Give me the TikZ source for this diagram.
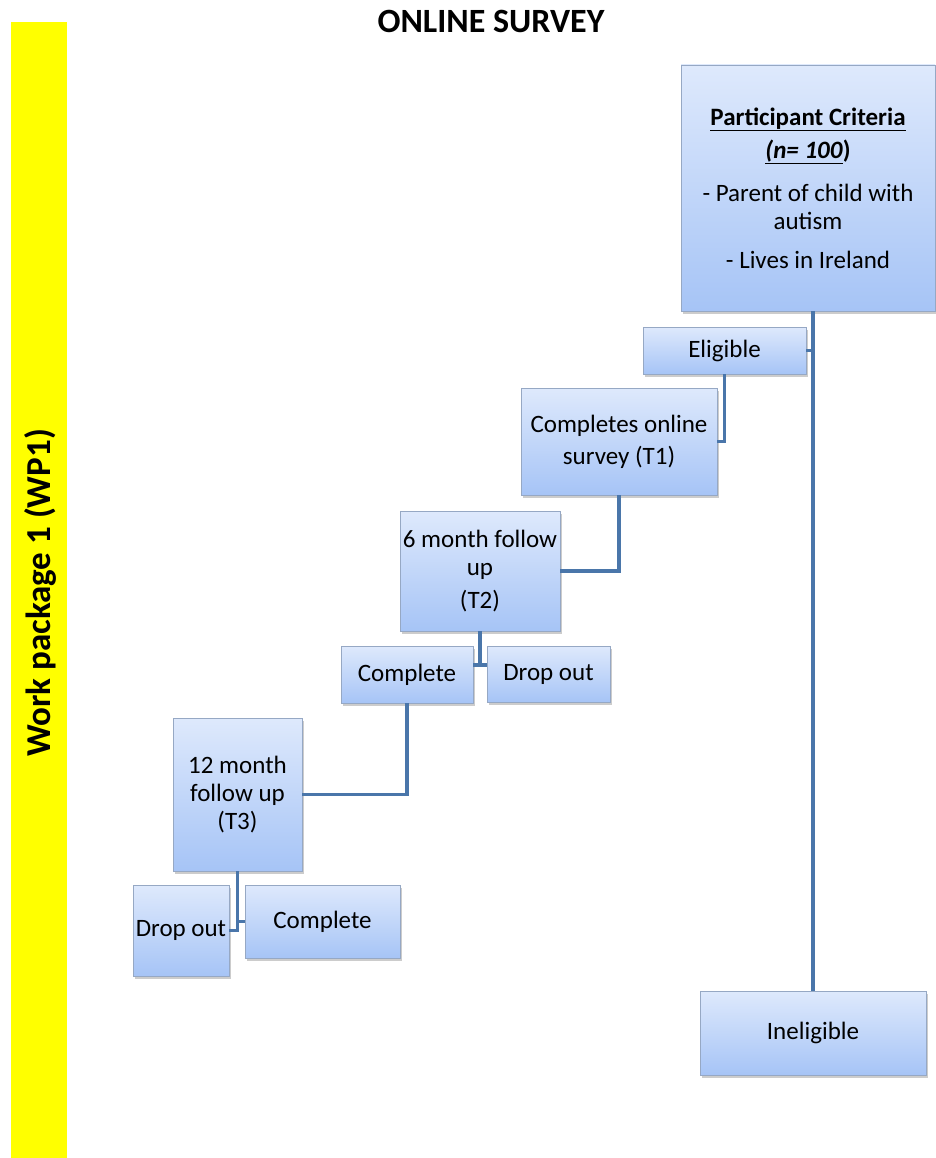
\documentclass[tikz,border=0pt]{standalone}
\usepackage{fontspec}
\setmainfont{Carlito}
\usetikzlibrary{shadows}
\definecolor{linkblue}{RGB}{74,118,170}
\definecolor{boxtop}{RGB}{222,233,252}
\definecolor{boxbot}{RGB}{166,196,246}
\definecolor{boxedge}{RGB}{150,168,196}
\definecolor{wpyellow}{RGB}{255,255,0}
\tikzset{
  box/.style={draw=boxedge, line width=0.8pt, top color=boxtop, bottom color=boxbot,
    align=center, inner sep=2pt, font=\fontsize{25}{28}\selectfont,
    drop shadow={opacity=0.4, shadow xshift=1.5pt, shadow yshift=-2.5pt}},
  link/.style={draw=linkblue, line width=3.5pt}
}
\begin{document}
\begin{tikzpicture}[x=1pt,y=1pt]
\useasboundingbox (0,0) rectangle (936,-1158);
\fill[wpyellow] (11,-22) rectangle (67,-1158);
\node[rotate=90, font=\fontsize{35}{40}\selectfont\bfseries] (wp) at (40,-593) {Work package 1 (WP1)};
\node[font=\fontsize{34}{38}\selectfont\bfseries] (title) at (491,-21) {ONLINE SURVEY};

\node[box, minimum width=254, minimum height=246] (pc) at (808,-188)
  {\underline{\textbf{Participant Criteria}}\\[5pt]
   \underline{\textbf{\textit{(n= 100}}}\textbf{)}\\[15pt]
   - Parent of child with\\ autism\\[11pt] - Lives in Ireland};
\node[box, minimum width=163, minimum height=47] (el) at (724.5,-350.5) {Eligible};
\node[box, minimum width=196, minimum height=107] (t1) at (619,-441.5) {Completes online\\[4pt] survey (T1)};
\node[box, minimum width=160, minimum height=120] (t2) at (480,-571) {6 month follow\\ up\\[5pt] (T2)};
\node[box, minimum width=132, minimum height=57] (c1) at (407,-674.5) {Complete};
\node[box, minimum width=123, minimum height=56] (d1) at (548.5,-674) {Drop out};
\node[box, minimum width=129, minimum height=153] (t3) at (237.5,-794.5) {12 month\\ follow up\\ (T3)};
\node[box, minimum width=96, minimum height=91] (d2) at (181,-930.5) {Drop out};
\node[box, minimum width=155, minimum height=73] (c2) at (322.5,-921.5) {Complete};
\node[box, minimum width=226, minimum height=84] (in) at (813,-1033) {Ineligible};

\draw[link] (pc.south -| in.north) -- (in.north);
\draw[link] (el.east) -- (el.east -| in.north);
\draw[link] (el.south) |- (t1.east);
\draw[link] (t1.south) |- (t2.east);
\coordinate (j1) at (481,-665);
\draw[link] (t2.south) -- (t2.south |- j1);
\draw[link] (c1.east |- j1) -- (d1.west |- j1);
\draw[link] (c1.south) |- (t3.east);
\draw[link] (t3.south) |- (d2.east);
\draw[link] (t3.south |- c2.west) -- (c2.west);
\end{tikzpicture}
\end{document}
